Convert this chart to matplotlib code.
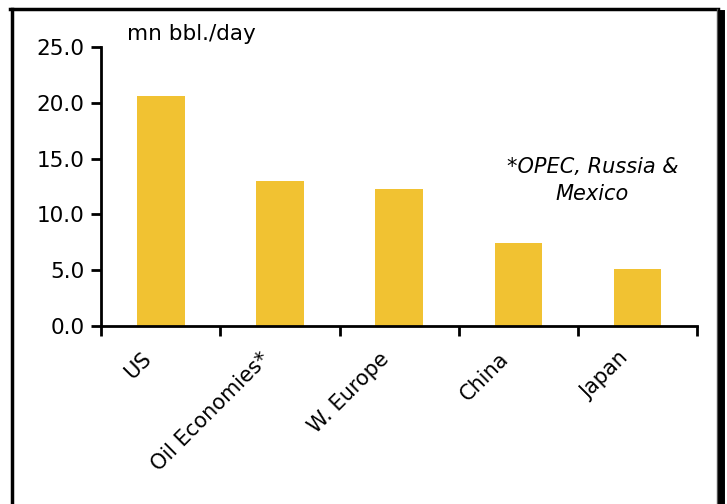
import matplotlib.pyplot as plt
import matplotlib.transforms as mtransforms
from matplotlib.lines import Line2D

# Oil consumption by economy
categories = ['US', 'Oil Economies*', 'W. Europe', 'China', 'Japan']
consumption = [20.6, 13.0, 12.3, 7.4, 5.1]
yticks = [0, 5, 10, 15, 20, 25]

plt.rcParams['font.family'] = 'DejaVu Sans'

fig = plt.figure(figsize=(7.27, 5.04), dpi=100)
ax = fig.add_axes([0.139, 0.353, 0.820, 0.554])

x = range(len(categories))
ax.bar(x, consumption, width=0.4, color='#F1C232', zorder=2)

ax.set_xlim(-0.5, len(categories) - 0.5)
ax.set_ylim(0, 25)
ax.set_yticks(yticks)
ax.set_yticklabels([f'{v:.1f}' for v in yticks], fontsize=15.5)

# category labels at bar centres, tick marks at category boundaries
ax.set_xticks(list(x))
ax.set_xticklabels(categories, rotation=45, ha='right', rotation_mode='anchor', fontsize=15)
ax.set_xticks([i - 0.5 for i in range(len(categories) + 1)], minor=True)
ax.tick_params(axis='x', which='major', length=0, pad=16)
ax.tick_params(axis='x', which='minor', length=7, width=2, direction='out')
ax.tick_params(axis='y', length=7, width=2, direction='out', pad=5)

shift = mtransforms.ScaledTranslation(-20 / 100, 0, fig.dpi_scale_trans)
for lbl in ax.get_xticklabels():
    lbl.set_transform(lbl.get_transform() + shift)

for side in ['top', 'right']:
    ax.spines[side].set_visible(False)
for side in ['left', 'bottom']:
    ax.spines[side].set_linewidth(2)

ax.text(0.044, 1.012, 'mn bbl./day', transform=ax.transAxes, fontsize=15.5, va='bottom')
ax.text(3.62, 13.0, '*OPEC, Russia &\nMexico', fontsize=15, style='italic',
        ha='center', va='center', linespacing=1.45)

# outer frame (left, top, right with shadow)
W, H = 727, 504
fig.add_artist(Line2D([11.5 / W, 11.5 / W], [0, 1 - 9 / H], color='black', lw=2.5,
                      transform=fig.transFigure))
fig.add_artist(Line2D([10 / W, 718 / W], [1 - 9 / H, 1 - 9 / H], color='black', lw=2.5,
                      transform=fig.transFigure))
fig.add_artist(Line2D([717 / W, 717 / W], [0, 1 - 9 / H], color='#555555', lw=1,
                      transform=fig.transFigure))
fig.add_artist(Line2D([721 / W, 721 / W], [0, 1 - 13 / H], color='black', lw=5,
                      transform=fig.transFigure))

fig.savefig('out.png', dpi=100)
